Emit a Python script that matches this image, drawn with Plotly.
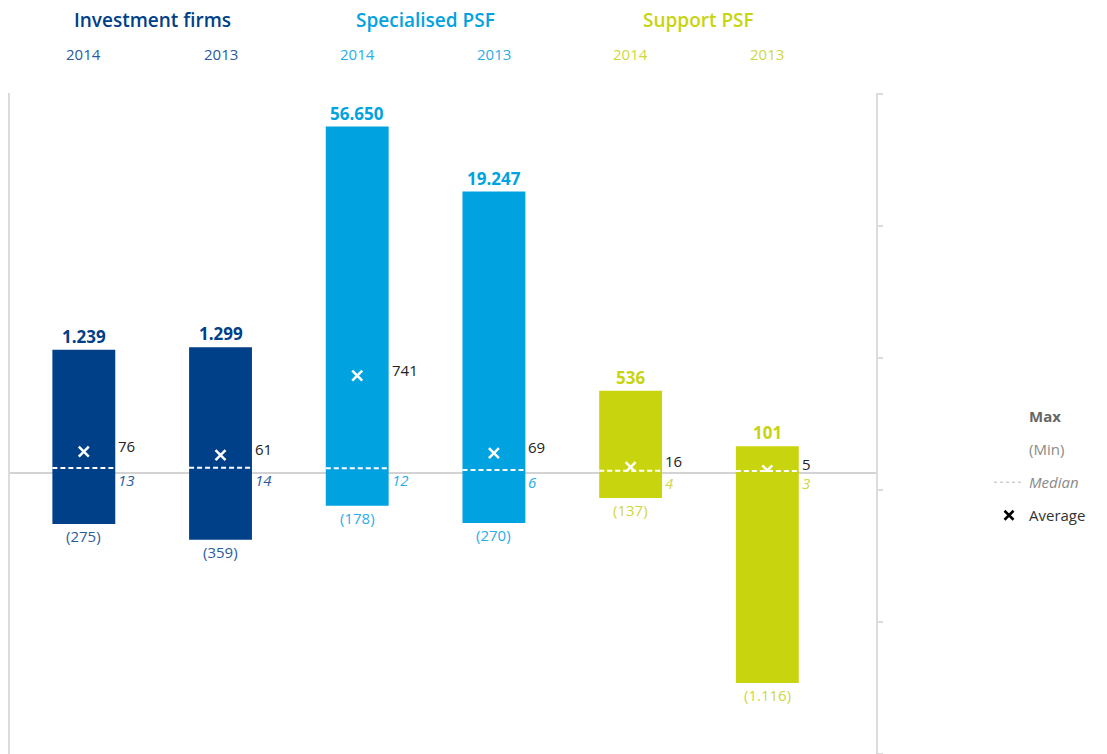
import numpy as np
import plotly.graph_objects as go

# ---- data -------------------------------------------------------------
groups = ["Investment firms", "Specialised PSF", "Support PSF"]
years = ["2014", "2013"]
max_vals = [1239, 1299, 56650, 19247, 536, 101]
min_vals = [-275, -359, -178, -270, -137, -1116]
median_vals = [13, 14, 12, 6, 4, 3]
average_vals = [76, 61, 741, 69, 16, 5]

# ---- styling ----------------------------------------------------------
bar_colors = {"Investment firms": "#004089", "Specialised PSF": "#00a3e0", "Support PSF": "#c8d40e"}
text_colors = {"Investment firms": "#2b5b9c", "Specialised PSF": "#2aaee6", "Support PSF": "#cfd73e"}
FONT = "Open Sans"
AXIS_GREY = "#dcdcdc"

cat_group = [g for g in groups for _ in years]
cat_year = [y for _ in groups for y in years]
idx = np.arange(len(cat_group))
colors = [bar_colors[g] for g in cat_group]
tcolors = [text_colors[g] for g in cat_group]
BAR_W = 0.46
half = BAR_W / 2

# positive part: log axis with an offset so that zero sits at the axis floor
OFFSET = 190
PX_PER_DECADE = 139.5
H, TOP = 754, 93
ZERO_PX = 472
plot_h = H - TOP
split = (H - ZERO_PX) / plot_h
pos_range = [np.log10(OFFSET), np.log10(OFFSET) + (ZERO_PX - TOP) / PX_PER_DECADE]
neg_range = [-(H - ZERO_PX) / 0.189, 0]


def fmt(v):
    return f"{abs(v):,}".replace(",", ".")


fig = go.Figure()

# max bars (upper panel) and min bars (lower panel)
fig.add_trace(go.Bar(x=idx, y=max_vals, base=OFFSET, width=BAR_W,
                     marker=dict(color=colors, line=dict(width=0)),
                     xaxis="x", yaxis="y", showlegend=False, hoverinfo="skip"))
fig.add_trace(go.Bar(x=idx, y=min_vals, base=0, width=BAR_W,
                     marker=dict(color=colors, line=dict(width=0)),
                     xaxis="x2", yaxis="y2", showlegend=False, hoverinfo="skip"))

# median dashes across each bar
mx, my = [], []
for i, m in zip(idx, median_vals):
    mx += [i - half, i + half, None]
    my += [OFFSET + m, OFFSET + m, None]
fig.add_trace(go.Scatter(x=mx, y=my, mode="lines",
                         line=dict(color="white", width=2, dash="5px,3px"),
                         xaxis="x", yaxis="y", showlegend=False, hoverinfo="skip"))

# average crosses
fig.add_trace(go.Scatter(x=idx, y=[OFFSET + a for a in average_vals], mode="markers",
                         marker=dict(symbol="x-thin-open", size=10, color="white",
                                     line=dict(color="white", width=2.5)),
                         xaxis="x", yaxis="y", showlegend=False, hoverinfo="skip"))

# decorative right-hand scale
fig.add_trace(go.Scatter(x=[None], y=[None], xaxis="x3", yaxis="y3",
                         showlegend=False, hoverinfo="skip"))

# legend entries
blank = dict(color="rgba(0,0,0,0)", size=1, line=dict(width=0))
fig.add_trace(go.Scatter(x=[None], y=[None], mode="markers", marker=blank,
                         name="<span style='color:#666666'><b>Max</b></span>", legendgroup="a"))
fig.add_trace(go.Scatter(x=[None], y=[None], mode="markers", marker=blank,
                         name="<span style='color:#8a8a8a'>(Min)</span>", legendgroup="b"))
fig.add_trace(go.Scatter(x=[None], y=[None], mode="lines",
                         line=dict(color="#cfcfcf", width=1.5, dash="3px,3px"),
                         name="<span style='color:#8a8a8a'><i>Median</i></span>", legendgroup="c"))
fig.add_trace(go.Scatter(x=[None], y=[None], mode="markers",
                         marker=dict(symbol="x-thin-open", size=9, color="black",
                                     line=dict(color="black", width=2.5)),
                         name="<span style='color:#333333'>Average</span>", legendgroup="d"))

ann = []
# group headers and years
for gi, g in enumerate(groups):
    ann.append(dict(x=gi * len(years) + (len(years) - 1) / 2, xref="x", y=(H - 20) / plot_h, yref="paper",
                    text=g, showarrow=False, yanchor="middle",
                    font=dict(family=FONT, size=19, color=bar_colors[g], weight=600)))
for i in idx:
    ann.append(dict(x=i, xref="x", y=(H - 54) / plot_h, yref="paper", text=cat_year[i],
                    showarrow=False, yanchor="middle",
                    font=dict(family=FONT, size=15, color=tcolors[i])))
    # max label
    ann.append(dict(x=i, xref="x", y=np.log10(OFFSET + max_vals[i]), yref="y",
                    text=f"<b>{fmt(max_vals[i])}</b>", showarrow=False, yanchor="bottom",
                    font=dict(family=FONT, size=17, color=colors[i])))
    # min label
    ann.append(dict(x=i, xref="x2", y=min_vals[i], yref="y2",
                    text=f"({fmt(min_vals[i])})", showarrow=False, yanchor="top",
                    font=dict(family=FONT, size=15, color=tcolors[i])))
    # average label
    ann.append(dict(x=i + half, xref="x", y=np.log10(OFFSET + average_vals[i]), yref="y",
                    text=str(average_vals[i]), showarrow=False, xanchor="left", yanchor="middle",
                    xshift=1, yshift=6, font=dict(family=FONT, size=15, color="#222222")))
    # median label
    ann.append(dict(x=i + half, xref="x", y=np.log10(OFFSET + median_vals[i]), yref="y",
                    text=f"<i>{median_vals[i]}</i>", showarrow=False, xanchor="left", yanchor="middle",
                    xshift=1, yshift=-12, font=dict(family=FONT, size=15, color=tcolors[i])))

x_range = [-0.54, 5.795]
hidden = dict(showticklabels=False, showgrid=False, zeroline=False, ticks="")

fig.update_layout(
    width=1107, height=754,
    margin=dict(l=10, r=1107 - 876, t=TOP, b=0),
    paper_bgcolor="white", plot_bgcolor="rgba(0,0,0,0)",
    barmode="overlay",
    font=dict(family=FONT),
    xaxis=dict(domain=[0, 1], anchor="y", range=x_range, showline=True, linecolor="#d3d3d3",
               linewidth=1.5, layer="below traces", **hidden),
    xaxis2=dict(domain=[0, 1], anchor="y2", range=x_range, visible=False),
    xaxis3=dict(domain=[0, 1], anchor="y3", range=[0, 1], visible=False),
    yaxis=dict(domain=[split, 1], anchor="x", type="log", range=pos_range,
               showline=True, linecolor=AXIS_GREY, linewidth=2, **hidden),
    yaxis2=dict(domain=[0, split], anchor="x2", range=neg_range,
                showline=True, linecolor=AXIS_GREY, linewidth=2, **hidden),
    yaxis3=dict(domain=[0, 1], anchor="x3", side="right", range=[0, plot_h], dtick=132, tick0=0,
                showline=True, linecolor=AXIS_GREY, linewidth=2, ticks="outside", ticklen=5,
                tickwidth=2, tickcolor=AXIS_GREY, showticklabels=False, showgrid=False, zeroline=False),
    legend=dict(x=(989 - 10) / 866, y=(H - 400) / plot_h, xanchor="left", yanchor="top",
                font=dict(family=FONT, size=15), tracegroupgap=10.5, traceorder="grouped",
                bgcolor="rgba(0,0,0,0)"),
    annotations=ann,
    showlegend=True,
)

fig.write_html("out.html")
